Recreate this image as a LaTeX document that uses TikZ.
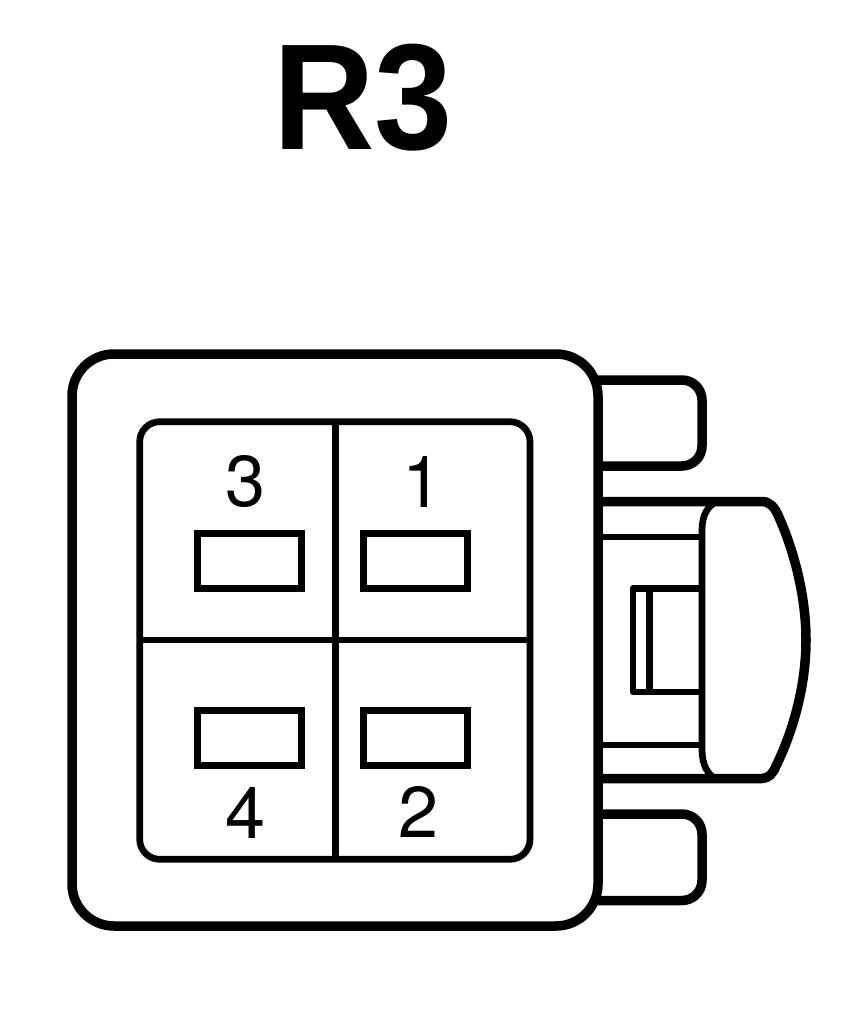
\documentclass[tikz,border=0pt]{standalone}
\usepackage{fontspec}
\setmainfont{Liberation Sans}
\newfontfamily\digitfont{TeX Gyre Heros}
\tikzset{
 px/.style={x=1pt,y=-1pt},
 heavy/.style={draw=black,line width=9.5pt,line join=round},
 mid/.style={draw=black,line width=6.7pt,line join=round},
 pin/.style={draw=black,line width=6.7pt,fill=white},
 num/.style={font=\digitfont\fontsize{72}{72}\selectfont,inner sep=0pt,anchor=center},
}
\begin{document}
\begin{tikzpicture}[px]
\useasboundingbox[fill=white] (0,0) rectangle (864,1012);
\node[font=\fontsize{151}{151}\selectfont\bfseries,inner sep=0pt,xscale=0.93] (title) at (363,98) {R3};
% clips
\draw[heavy,rounded corners=20pt] (598,380) -- (702,380) -- (702,466) -- (598,466);
\draw[heavy,rounded corners=20pt] (598,814) -- (702,814) -- (702,900.5) -- (598,900.5);
% latch
\draw[mid] (598,537) -- (702,537);
\draw[mid] (598,745) -- (702,745);
\draw[mid] (702,588.5) -- (633,588.5) -- (633,692) -- (702,692);
\draw[mid] (649.5,588.5) -- (649.5,692);
\draw[mid] (716,502) .. controls (708,506) and (702,515) .. (702,530) -- (702,750) .. controls (702,765) and (708,775) .. (716,779);
\draw[heavy] (598,501.5) -- (762,501.5) .. controls (770,501.5) and (775,508) .. (778,515) .. controls (796,555) and (806,600) .. (806,640) .. controls (806,680) and (796,725) .. (776,766) .. controls (773,773) and (769,778.5) .. (762,778.5) -- (598,778.5);
% body
\draw[draw=black,line width=9.5pt,fill=white,rounded corners=42pt] (72,354) rectangle (598,926);
\draw[mid,rounded corners=20pt] (139.7,421.7) rectangle (530,859.3);
\draw[mid] (335.7,421.7) -- (335.7,859.3);
\draw[mid] (139.7,640) -- (530,640);
% pins
\draw[pin] (197.7,533.3) rectangle (301.7,588.3);
\draw[pin] (363.7,533.3) rectangle (467.7,588.3);
\draw[pin] (197.7,710.3) rectangle (301.7,765.3);
\draw[pin] (363.7,710.3) rectangle (467.7,765.3);
\node[num] (n3) at (245.5,482) {3};
\node[num] (n1) at (422.4,482) {1};
\node[num] (n4) at (245.3,813) {4};
\node[num] (n2) at (419,812) {2};
\end{tikzpicture}
\end{document}
